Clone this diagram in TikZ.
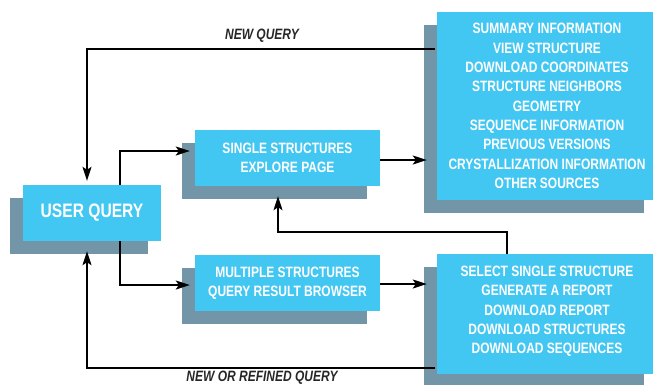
\documentclass[tikz,border=0pt]{standalone}
\usepackage{fontspec}
\newfontfamily\boxfont[FakeStretch=0.8]{Liberation Sans}
\usetikzlibrary{arrows.meta,shadows}

\definecolor{boxblue}{RGB}{66,199,243}
\definecolor{boxshade}{RGB}{114,150,168}

\tikzset{
	infobox/.style={fill=boxblue,text=white,inner sep=0pt,align=center,
		font=\boxfont\bfseries\fontsize{15}{19.3}\selectfont,
		drop shadow={shadow xshift=-13pt,shadow yshift=-13pt,fill=boxshade,opacity=1}},
	arr/.style={-{Stealth[length=14pt,width=9pt,inset=3pt]},line width=1.5pt},
	looplabel/.style={font=\boxfont\bfseries\itshape\fontsize{15}{17}\selectfont,text=black!85}
}

\begin{document}
\begin{tikzpicture}[x=1pt,y=-1pt]
	\useasboundingbox (0,0) rectangle (653,384);
	
	\node[infobox,minimum width=138pt,minimum height=56pt,font=\boxfont\bfseries\fontsize{19.5}{22}\selectfont] (user) at (92,213) {USER QUERY};
	\node[infobox,minimum width=185pt,minimum height=56pt] (single) at (287.5,158) {SINGLE STRUCTURES\\EXPLORE PAGE};
	\node[infobox,minimum width=185pt,minimum height=56pt] (multi) at (287.5,283) {MULTIPLE STRUCTURES\\QUERY RESULT BROWSER};
	\node[infobox,minimum width=220pt,minimum height=188pt] (info) at (547,106) {SUMMARY INFORMATION\\VIEW STRUCTURE\\DOWNLOAD COORDINATES\\STRUCTURE NEIGHBORS\\GEOMETRY\\SEQUENCE INFORMATION\\PREVIOUS VERSIONS\\CRYSTALLIZATION INFORMATION\\OTHER SOURCES};
	\node[infobox,minimum width=220pt,minimum height=120pt,text depth=8pt] (report) at (547,314) {SELECT SINGLE STRUCTURE\\GENERATE A REPORT\\DOWNLOAD REPORT\\DOWNLOAD STRUCTURES\\DOWNLOAD SEQUENCES};
	
	\draw[arr,shorten >=4pt] ([xshift=-2pt,yshift=-37pt]info.north west) -| ([xshift=-5pt]user.north);
	\draw[arr] ([xshift=28pt]user.north) |- ([xshift=-5pt,yshift=7pt]single.west);
	\draw[arr] ([xshift=28pt]user.south) |- ([xshift=-5pt,yshift=-2pt]multi.west);
	\draw[arr,shorten >=10pt] ([yshift=-2pt]single.east) -- ([yshift=-2pt]single.east -| info.west);
	\draw[arr,shorten >=10pt] ([yshift=-1pt]multi.east) -- ([yshift=-1pt]multi.east -| report.west);
	\draw[arr,shorten >=10pt] ([xshift=-40pt]report.north) -- ++(0,-22) -| ([xshift=-9.5pt]single.south);
	\draw[arr,shorten >=10pt] ([xshift=-2pt,yshift=6pt]report.south west) -| ([xshift=-5pt]user.south);
	
	\node[looplabel] (newq) at (262,36) {NEW QUERY};
	\node[looplabel] (refq) at (262,378) {NEW OR REFINED QUERY};
\end{tikzpicture}
\end{document}
